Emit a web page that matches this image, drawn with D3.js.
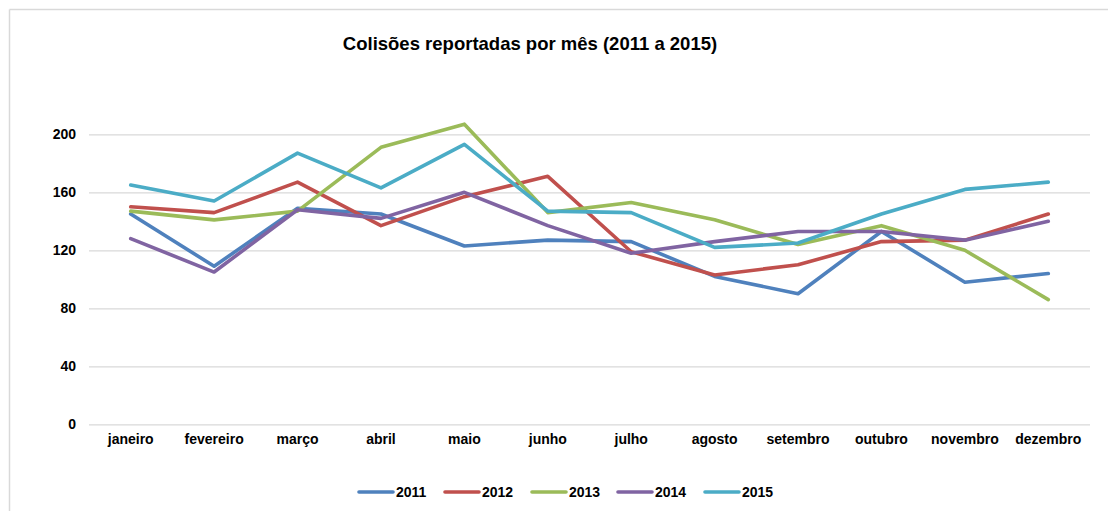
<!DOCTYPE html>
<html>
<head>
<meta charset="utf-8">
<script src="https://cdn.jsdelivr.net/npm/d3@7"></script>
<style>
  html, body { margin: 0; padding: 0; background: #fff; }
  svg { display: block; font-family: "Liberation Sans", Arial, sans-serif; }
</style>
</head>
<body>
<script>
const months = ["janeiro","fevereiro","março","abril","maio","junho","julho","agosto","setembro","outubro","novembro","dezembro"];
const years = ["2011","2012","2013","2014","2015"];
const s2011 = [145,109,149,145,123,127,126,102,90,133,98,104];
const s2012 = [150,146,167,137,157,171,119,103,110,126,127,145];
const s2013 = [147,141,147,191,207,146,153,141,124,137,120,86];
const s2014 = [128,105,148,142,160,137,118,126,133,133,127,140];
const s2015 = [165,154,187,163,193,147,146,122,125,145,162,167];
const yTicks = [0,40,80,120,160,200];
const colors = ["#4F81BD","#C0504D","#9BBB59","#8064A2","#4BACC6"];
const title = "Colisões reportadas por mês (2011 a 2015)";

const seriesData = [s2011, s2012, s2013, s2014, s2015];

const W = 1108, H = 511;
const svg = d3.select("body").append("svg").attr("width", W).attr("height", H);

// chart frame (only top and left visible in reference)
svg.append("line").attr("x1", 9.5).attr("x2", W).attr("y1", 9.5).attr("y2", 9.5)
  .attr("stroke", "#d9d9d9").attr("stroke-width", 1.5);
svg.append("line").attr("x1", 9.5).attr("x2", 9.5).attr("y1", 9.5).attr("y2", H)
  .attr("stroke", "#d9d9d9").attr("stroke-width", 1.5);

const x = d3.scaleBand().domain(months).range([89, 1090]);
const y = d3.scaleLinear().domain([0, 200]).range([424.3, 134.3]);

// gridlines
const yAxis = d3.axisLeft(y).tickValues(yTicks).tickSize(-(1090 - 89)).tickPadding(13);
const gy = svg.append("g").attr("transform", "translate(89,0)").call(yAxis);
gy.select(".domain").remove();
gy.selectAll(".tick line").attr("stroke", "#d9d9d9").attr("stroke-width", 1.3);
gy.selectAll(".tick text").attr("font-size", 14).attr("font-weight", "bold")
  .attr("fill", "#000").attr("font-family", "Liberation Sans, Arial, sans-serif");

// x axis labels
const xAxis = d3.axisBottom(x).tickSize(0).tickPadding(10);
const gx = svg.append("g").attr("transform", "translate(0,424.3)").call(xAxis);
gx.select(".domain").remove();
gx.selectAll(".tick text").attr("font-size", 14).attr("font-weight", "bold")
  .attr("fill", "#000").attr("font-family", "Liberation Sans, Arial, sans-serif");

// lines
const line = d3.line()
  .x((d, i) => x(months[i]) + x.bandwidth() / 2)
  .y(d => y(d));

seriesData.forEach((s, k) => {
  svg.append("path").datum(s)
    .attr("d", line)
    .attr("fill", "none")
    .attr("stroke", colors[k])
    .attr("stroke-width", 3.6)
    .attr("stroke-linejoin", "round")
    .attr("stroke-linecap", "round");
});

// title
svg.append("text").attr("x", 530).attr("y", 49.5)
  .attr("text-anchor", "middle").attr("font-size", 18.5).attr("font-weight", "bold")
  .attr("fill", "#000").text(title);

// legend
const legendX = [359, 445, 532, 618, 705];
const ly = 492;
years.forEach((yr, k) => {
  const g = svg.append("g");
  g.append("line").attr("x1", legendX[k]).attr("x2", legendX[k] + 34)
    .attr("y1", ly).attr("y2", ly)
    .attr("stroke", colors[k]).attr("stroke-width", 3.6).attr("stroke-linecap", "round");
  g.append("text").attr("x", legendX[k] + 37).attr("y", ly + 5)
    .attr("font-size", 14).attr("font-weight", "bold").attr("fill", "#000").text(yr);
});
</script>
</body>
</html>
